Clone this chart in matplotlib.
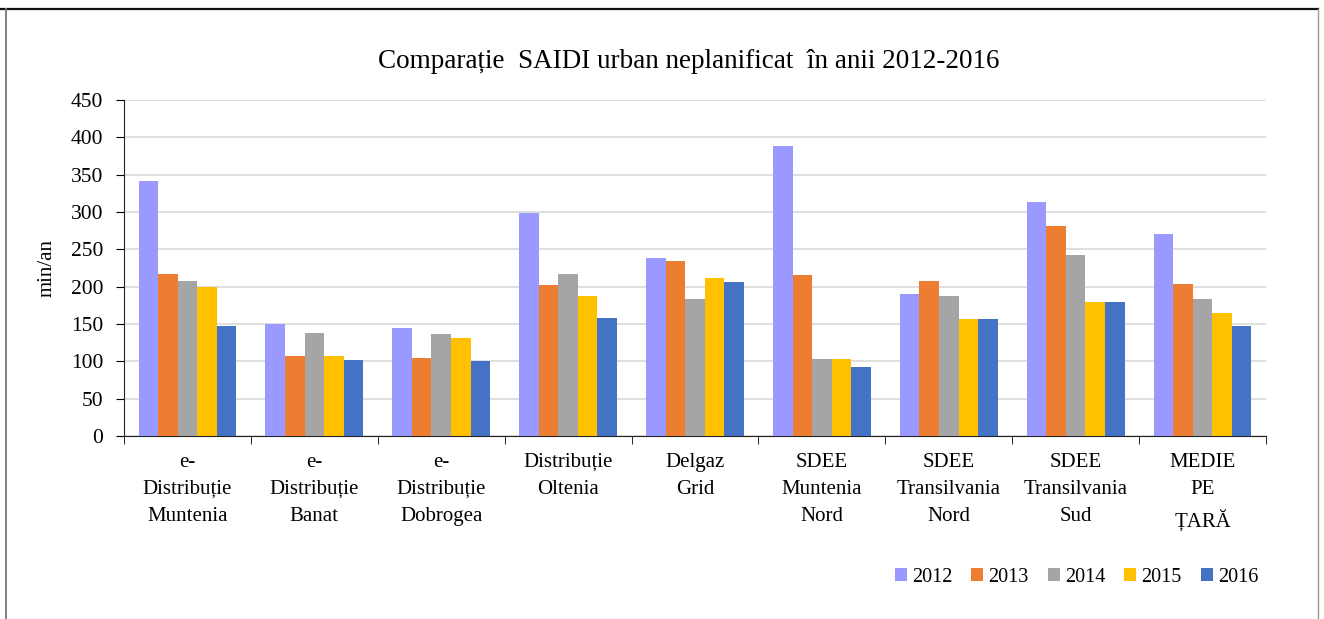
import numpy as np
import matplotlib.pyplot as plt
from matplotlib.lines import Line2D

plt.rcParams['font.family'] = ['Liberation Serif', 'DejaVu Serif']

categorii = ['e-\nDistribuție\nMuntenia', 'e-\nDistribuție\nBanat', 'e-\nDistribuție\nDobrogea',
             'Distribuție\nOltenia', 'Delgaz\nGrid', 'SDEE\nMuntenia\nNord',
             'SDEE\nTransilvania\nNord', 'SDEE\nTransilvania\nSud', 'MEDIE\nPE\nȚARĂ']
ani = ['2012', '2013', '2014', '2015', '2016']
v2012 = [342, 150, 144, 299, 239, 389, 190, 313, 271]
v2013 = [217, 107, 105, 202, 235, 216, 207, 281, 204]
v2014 = [208, 138, 137, 217, 183, 103, 187, 242, 183]
v2015 = [200, 107, 131, 187, 212, 103, 157, 179, 165]
v2016 = [147, 102, 100, 158, 206, 93, 157, 179, 147]
serii = [v2012, v2013, v2014, v2015, v2016]
culori = ['#9999FF', '#ED7D31', '#A5A5A5', '#FFC000', '#4472C4']

fig = plt.figure(figsize=(13.24, 6.19), dpi=100)
# okvir slike (gornja crna linija, sive bocne)
W, H = 1324, 619
fig.lines.append(Line2D([0, 1318 / W], [1 - 9 / H] * 2, transform=fig.transFigure, color='#111111', lw=1.6))
fig.lines.append(Line2D([6 / W] * 2, [0, 1 - 9 / H], transform=fig.transFigure, color='#777777', lw=1.3))
fig.lines.append(Line2D([1318 / W] * 2, [0, 1 - 9 / H], transform=fig.transFigure, color='#999999', lw=1))

ax = fig.add_axes([124 / W, 1 - 436 / H, (1266 - 124) / W, 336 / H])

x = np.arange(len(categorii))
w = 0.154
for i, (s, c, an) in enumerate(zip(serii, culori, ani)):
    ax.bar(x + (i - 2) * w, s, width=w, color=c, label=an, zorder=3)

ax.set_xlim(-0.5, 8.5)
ax.set_ylim(0, 450)
ax.set_yticks(np.arange(0, 451, 50))
ax.yaxis.grid(True, color='#D9D9D9', lw=1.2, zorder=0)
ax.tick_params(axis='y', labelsize=15.5, direction='out', length=6, pad=9)
ax.set_xticks(x)
ax.set_xticklabels(categorii, fontsize=15, linespacing=1.6)
ax.set_xticks(np.arange(-0.5, 9, 1), minor=True)
ax.tick_params(axis='x', which='major', length=0, pad=12)
ax.tick_params(axis='x', which='minor', length=6, direction='out')
for sp in ['top', 'right']:
    ax.spines[sp].set_visible(False)
ax.spines['left'].set_color('#222222')
ax.spines['bottom'].set_color('#222222')
ax.set_ylabel('min/an', fontsize=15, labelpad=10)

fig.text(0.52, 0.9, 'Comparație  SAIDI urban neplanificat  în anii 2012-2016',
         ha='center', va='center', fontsize=19.5)

ax.legend(loc='center right', bbox_to_anchor=(0.958, 1 - 577 / H), bbox_transform=fig.transFigure,
          ncol=5, frameon=False, fontsize=14.5, handlelength=0.6, handleheight=0.6,
          handletextpad=0.25, columnspacing=0.95, borderpad=0)

fig.savefig('out.png', dpi=100)
